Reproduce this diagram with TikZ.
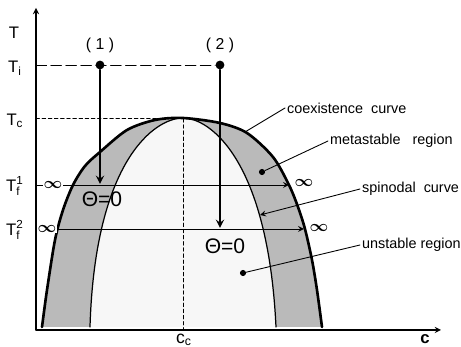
\documentclass[tikz,border=0pt]{standalone}
\usepackage{amsmath}
\usepackage{fontspec}
\setmainfont{Liberation Sans}

\begin{document}
\begin{tikzpicture}[
  x=0.02cm, y=-0.02cm,
  line cap=round, line join=round, >=stealth,
  axis/.style={line width=0.6pt},
  coex/.style={line width=1.5pt},
  spin/.style={line width=0.7pt},
  quench/.style={->, line width=1.1pt},
  level/.style={->, line width=0.5pt},
  lead/.style={line width=0.5pt},
  longdash/.style={line width=0.5pt, dash pattern=on 6pt off 2.5pt},
  shortdash/.style={line width=0.5pt, dash pattern=on 2pt off 1.5pt},
  tlbl/.style={font=\fontsize{9.5}{11}\selectfont, inner sep=0pt},
  lbl/.style={font=\fontsize{8.2}{10}\selectfont, inner sep=1pt, anchor=west},
  theta/.style={font=\fontsize{12}{14}\selectfont, inner sep=0pt},
  inf/.style={font=\fontsize{9}{11}\selectfont\boldmath, inner sep=0.3pt},
  dot/.style={circle, fill=black, inner sep=0pt, minimum size=5pt},
  smalldot/.style={circle, fill=black, inner sep=0pt, minimum size=3.5pt}
]
  \useasboundingbox (0,0) rectangle (461,347);

  % ── Two-phase region ──────────────────────────────────────────────────────

  % metastable band (between coexistence and spinodal)
  \fill[black!27] plot[smooth] coordinates {
    (42,327) (47,290) (55,240) (63,210) (73,185) (85,166) (100,152)
    (127,130) (155,120) (183,118) (220,123) (247,133) (273,157)
    (289,185) (298,207) (305,229) (312,260) (317,290) (322,327)};

  % unstable region (inside spinodal)
  \filldraw[spin, fill=black!3] (90,327) .. controls (95,160) and (155,118) .. (183,118)
    .. controls (210,118) and (268,160) .. (276,327);

  % coexistence curve
  \draw[coex] plot[smooth] coordinates {
    (42,327) (47,290) (55,240) (63,210) (73,185) (85,166) (100,152)
    (127,130) (155,120) (183,118) (220,123) (247,133) (273,157)
    (289,185) (298,207) (305,229) (312,260) (317,290) (322,327)};

  % ── Axes ──────────────────────────────────────────────────────────────────

  \coordinate (O)    at (36,330);
  \coordinate (yEnd) at (36,8);
  \coordinate (xEnd) at (441,330);
  \draw[axis, ->] (O) -- (yEnd);
  \draw[axis, ->] (O) -- (xEnd);

  \node[tlbl] (lblT)   at (14,33)  {T};
  \node[tlbl] (lblTi)  at (15,68)  {T\textsubscript{i}};
  \node[tlbl] (lblTc)  at (15,121) {T\textsubscript{c}};
  \node[tlbl] (lblTf1) at (15,186) {$\text{T}^{\text{1}}_{\text{f}}$};
  \node[tlbl] (lblTf2) at (15,230) {$\text{T}^{\text{2}}_{\text{f}}$};
  \node[tlbl, font=\fontsize{10}{12}\selectfont] (lblcc) at (184,340) {c\textsubscript{c}};
  \node[tlbl, font=\fontsize{9.5}{11}\selectfont\bfseries] (lblc) at (425,339) {c};

  % ── Critical point ────────────────────────────────────────────────────────

  \coordinate (yTc)  at (36,118);
  \coordinate (crit) at (183,118);
  \coordinate (cc)   at (183,330);
  \draw[shortdash] (yTc) -- (crit) -- (cc);

  % ── Quenches (1) and (2) ──────────────────────────────────────────────────

  \coordinate (yTi) at (36,65);
  \node[dot] (p1) at (100,65) {};
  \node[dot] (p2) at (220,65) {};
  \draw[longdash] (yTi) -- (p2);

  \node[font=\fontsize{9}{11}\selectfont] (lbl1) at (100,45) {( 1 )};
  \node[font=\fontsize{9}{11}\selectfont] (lbl2) at (220,45) {( 2 )};

  \coordinate (f1) at (100,184);
  \coordinate (f2) at (220,228);
  \draw[quench] (p1) -- (f1);
  \draw[quench] (p2) -- (f2);

  \node[theta] (th1) at (102,199) {Θ=0};
  \node[theta] (th2) at (225,246) {Θ=0};

  % final temperatures
  \coordinate (yTf1) at (36,185);
  \coordinate (eTf1) at (289,185);
  \coordinate (yTf2) at (36,229);
  \coordinate (eTf2) at (304,229);
  \draw[level] (yTf1) -- (eTf1);
  \draw[level] (yTf2) -- (eTf2);

  \node[inf, fill=white] (infL1) at (53,185) {$\infty$};
  \node[inf, fill=white] (infL2) at (47,229) {$\infty$};
  \node[inf] (infR1) at (304,183) {$\infty$};
  \node[inf] (infR2) at (319,228) {$\infty$};

  % ── Labels ────────────────────────────────────────────────────────────────

  \node[lbl] (lblCoex) at (285,108) {coexistence\ \ curve};
  \node[lbl] (lblMeta) at (328,141) {metastable\ \ \ region};
  \node[lbl] (lblSpin) at (360,189) {spinodal\ \ curve};
  \node[lbl] (lblUnst) at (360,245) {unstable region};

  \coordinate (ptCoex) at (245,132);
  \node[smalldot] (ptMeta) at (262,172) {};
  \coordinate (ptSpin) at (260,215);
  \node[smalldot] (ptUnst) at (243,273) {};

  \draw[lead] (lblCoex.west) -- (ptCoex);
  \draw[lead] (lblMeta.west) -- (ptMeta);
  \draw[lead, ->] (lblSpin.west) -- (ptSpin);
  \draw[lead] (lblUnst.west) -- (ptUnst);

\end{tikzpicture}
\end{document}
